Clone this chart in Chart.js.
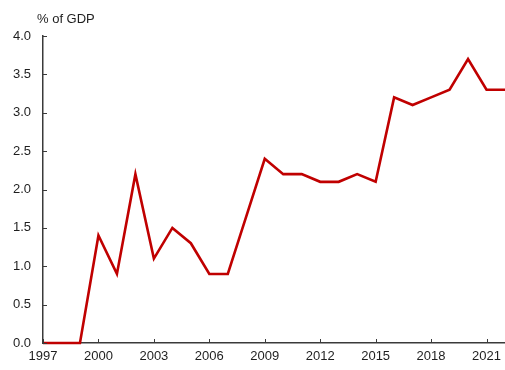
<!DOCTYPE html>
<html>
<head>
<meta charset="utf-8">
<script src="https://cdn.jsdelivr.net/npm/chart.js@4/dist/chart.umd.min.js"></script>
<style>
  html, body { margin: 0; padding: 0; background: #fff; }
  #wrap { width: 505px; height: 370px; position: relative; }
</style>
</head>
<body>
<div id="wrap"><canvas id="c"></canvas></div>
<script>
// Annual values, % of GDP
const years = [1997, 1998, 1999, 2000, 2001, 2002, 2003, 2004, 2005, 2006, 2007, 2008, 2009,
               2010, 2011, 2012, 2013, 2014, 2015, 2016, 2017, 2018, 2019, 2020, 2021, 2022];
const shareOfGdp = [0, 0, 0, 1.4, 0.9, 2.2, 1.1, 1.5, 1.3, 0.9, 0.9, 1.65, 2.4,
                    2.2, 2.2, 2.1, 2.1, 2.2, 2.1, 3.2, 3.1, 3.2, 3.3, 3.7, 3.3, 3.3];
const xTickYears = [1997, 2000, 2003, 2006, 2009, 2012, 2015, 2018, 2021];
const yTickValues = [0, 0.5, 1, 1.5, 2, 2.5, 3, 3.5, 4];
const unitLabel = '% of GDP';

const FONT = 'Arial, "Liberation Sans", sans-serif';
const AXIS_COLOR = '#3a3a3a';
const TEXT_COLOR = '#1e1e1e';

// Short tick marks pointing into the plot area, plus the unit label above the y axis
const innerTicks = {
  id: 'innerTicks',
  afterDatasetsDraw(chart) {
    const { ctx, chartArea, scales } = chart;
    ctx.save();
    ctx.strokeStyle = AXIS_COLOR;
    ctx.lineWidth = 1;
    scales.x.ticks.forEach(t => {
      const px = Math.round(scales.x.getPixelForValue(t.value)) + 0.5;
      ctx.beginPath();
      ctx.moveTo(px, chartArea.bottom);
      ctx.lineTo(px, chartArea.bottom - 4);
      ctx.stroke();
    });
    scales.y.ticks.forEach(t => {
      const py = Math.round(scales.y.getPixelForValue(t.value)) + 0.5;
      ctx.beginPath();
      ctx.moveTo(chartArea.left, py);
      ctx.lineTo(chartArea.left + 4, py);
      ctx.stroke();
    });
    ctx.fillStyle = TEXT_COLOR;
    ctx.font = '13px ' + FONT;
    ctx.textBaseline = 'alphabetic';
    ctx.textAlign = 'left';
    ctx.fillText(unitLabel, chartArea.left - 6, chartArea.top - 13);
    ctx.restore();
  }
};

new Chart(document.getElementById('c'), {
  type: 'line',
  data: {
    datasets: [{
      data: years.map((y, i) => ({ x: y, y: shareOfGdp[i] })),
      borderColor: '#c00000',
      borderWidth: 2.6,
      pointRadius: 0,
      tension: 0,
      fill: false,
      clip: false
    }]
  },
  options: {
    responsive: true,
    maintainAspectRatio: false,
    animation: false,
    layout: { padding: { top: 36, right: 0, bottom: 0, left: 0 } },
    plugins: { legend: { display: false }, tooltip: { enabled: false }, title: { display: false } },
    scales: {
      x: {
        type: 'linear',
        min: 1997,
        max: 2022,
        afterBuildTicks: s => { s.ticks = xTickYears.map(v => ({ value: v })); },
        afterFit: s => { s.height = 27; s.paddingRight = 0; s.paddingLeft = 0; },
        grid: { display: false, drawTicks: false },
        border: { display: true, color: AXIS_COLOR, width: 1.5 },
        ticks: {
          padding: 6,
          color: TEXT_COLOR,
          font: { family: FONT, size: 13 },
          maxRotation: 0,
          autoSkip: false,
          callback: v => String(v)
        }
      },
      y: {
        min: 0,
        max: 4,
        afterBuildTicks: s => { s.ticks = yTickValues.map(v => ({ value: v })); },
        afterFit: s => { s.width = 43; },
        grid: { display: false, drawTicks: false },
        border: { display: true, color: AXIS_COLOR, width: 1.5 },
        ticks: {
          padding: 12,
          color: TEXT_COLOR,
          font: { family: FONT, size: 13 },
          callback: v => Number(v).toFixed(1)
        }
      }
    }
  },
  plugins: [innerTicks]
});
</script>
</body>
</html>
